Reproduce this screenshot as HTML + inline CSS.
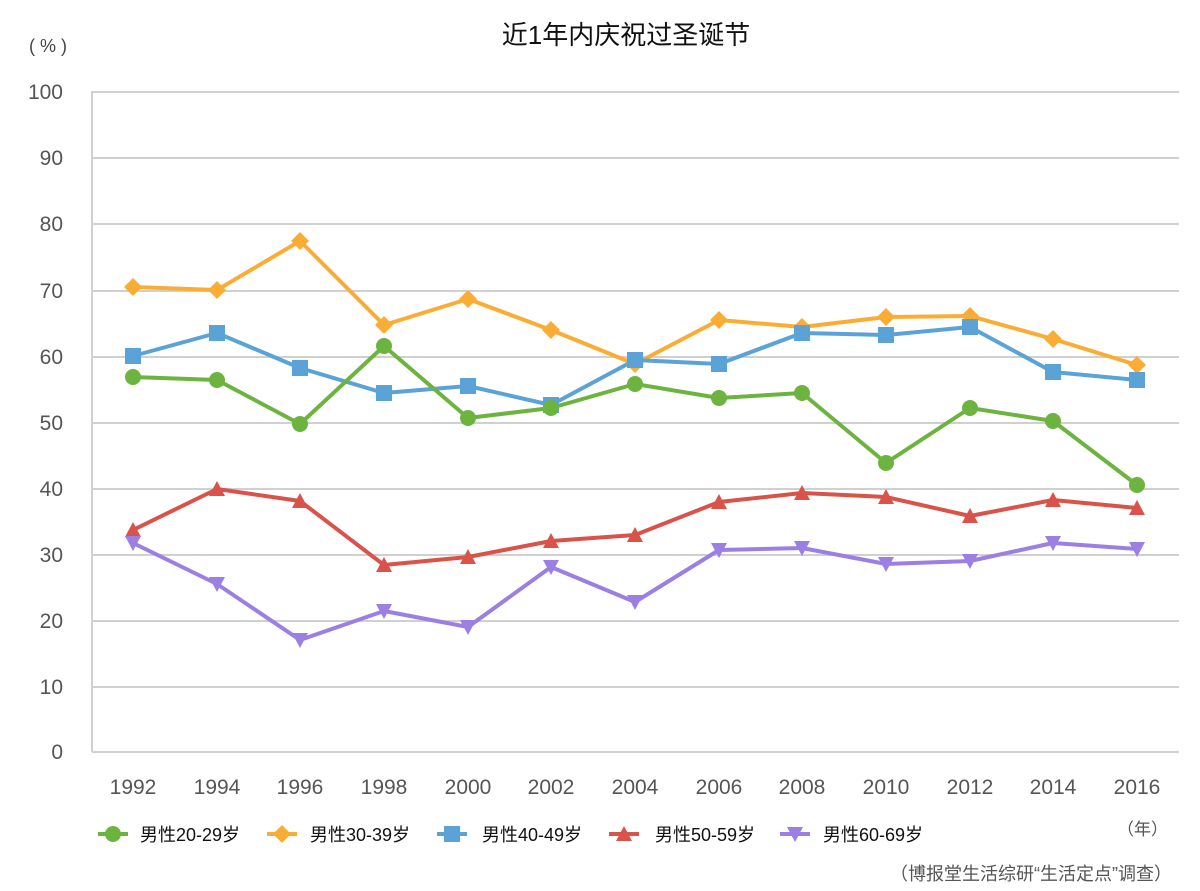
<!DOCTYPE html>
<html><head><meta charset="utf-8"><style>
html,body{margin:0;padding:0;background:#fff;}
svg{display:block;font-family:"Liberation Sans","Noto Sans CJK SC",sans-serif;}
</style></head><body>
<svg width="1200" height="891" viewBox="0 0 1200 891" xmlns="http://www.w3.org/2000/svg">
<defs>
<circle id="mc" r="8" fill="#6db33f"/>
<path id="md" d="M0,-9 L9,0 L0,9 L-9,0Z" fill="#f9ad35"/>
<rect id="ms" x="-8" y="-8" width="16" height="16" fill="#5ba3d6"/>
<path id="mt" d="M0,-8 L8,7 L-8,7Z" fill="#d9534a"/>
<path id="mv" d="M-8,-7 L8,-7 L0,8Z" fill="#9b7fe3"/>
</defs>
<text x="626" y="44" font-size="26" text-anchor="middle" fill="#111">近1年内庆祝过圣诞节</text>
<text x="48" y="52" font-size="18" text-anchor="middle" fill="#444">(   %   )</text>
<g stroke="#d0d0d0" stroke-width="2">
<line x1="92" y1="92" x2="1179" y2="92"/><line x1="92" y1="158" x2="1179" y2="158"/>
<line x1="92" y1="224" x2="1179" y2="224"/><line x1="92" y1="291" x2="1179" y2="291"/>
<line x1="92" y1="357" x2="1179" y2="357"/><line x1="92" y1="423" x2="1179" y2="423"/>
<line x1="92" y1="489" x2="1179" y2="489"/><line x1="92" y1="555" x2="1179" y2="555"/>
<line x1="92" y1="621" x2="1179" y2="621"/><line x1="92" y1="687" x2="1179" y2="687"/>
<line x1="92" y1="752" x2="1179" y2="752"/><line x1="92" y1="91" x2="92" y2="752"/>
</g>
<g font-size="21" fill="#555" text-anchor="end">
<text x="63" y="99">100</text><text x="63" y="165">90</text><text x="63" y="231">80</text>
<text x="63" y="298">70</text><text x="63" y="364">60</text><text x="63" y="430">50</text>
<text x="63" y="496">40</text><text x="63" y="562">30</text><text x="63" y="628">20</text>
<text x="63" y="694">10</text><text x="63" y="759">0</text>
</g>
<g font-size="21" fill="#555" text-anchor="middle">
<text x="133" y="794">1992</text><text x="217" y="794">1994</text><text x="300" y="794">1996</text>
<text x="384" y="794">1998</text><text x="468" y="794">2000</text><text x="551" y="794">2002</text>
<text x="635" y="794">2004</text><text x="719" y="794">2006</text><text x="802" y="794">2008</text>
<text x="886" y="794">2010</text><text x="970" y="794">2012</text><text x="1053" y="794">2014</text>
<text x="1137" y="794">2016</text>
</g>
<g fill="none" stroke-width="4" stroke-linejoin="round">
<polyline stroke="#f9ad35" points="133,287 217,290 300,241 384,325 468,299 551,330 635,364 719,320 802,327 886,317 970,316 1053,339 1137,365"/>
<polyline stroke="#5ba3d6" points="133,356 217,333 300,368 384,393 468,386 551,405 635,360 719,364 802,333 886,335 970,327 1053,372 1137,380"/>
<polyline stroke="#6db33f" points="133,377 217,380 300,424 384,346 468,418 551,408 635,384 719,398 802,393 886,463 970,408 1053,421 1137,485"/>
<polyline stroke="#d9534a" points="133,530 217,489 300,501 384,565 468,557 551,541 635,535 719,502 802,493 886,497 970,516 1053,500 1137,508"/>
<polyline stroke="#9b7fe3" points="133,543 217,584 300,640 384,611 468,627 551,567 635,602 719,550 802,548 886,564 970,561 1053,543 1137,549"/>
</g>
<g>
<use href="#md" x="133" y="287"/><use href="#md" x="217" y="290"/><use href="#md" x="300" y="241"/><use href="#md" x="384" y="325"/><use href="#md" x="468" y="299"/><use href="#md" x="551" y="330"/><use href="#md" x="635" y="364"/><use href="#md" x="719" y="320"/><use href="#md" x="802" y="327"/><use href="#md" x="886" y="317"/><use href="#md" x="970" y="316"/><use href="#md" x="1053" y="339"/><use href="#md" x="1137" y="365"/>
<use href="#ms" x="133" y="356"/><use href="#ms" x="217" y="333"/><use href="#ms" x="300" y="368"/><use href="#ms" x="384" y="393"/><use href="#ms" x="468" y="386"/><use href="#ms" x="551" y="405"/><use href="#ms" x="635" y="360"/><use href="#ms" x="719" y="364"/><use href="#ms" x="802" y="333"/><use href="#ms" x="886" y="335"/><use href="#ms" x="970" y="327"/><use href="#ms" x="1053" y="372"/><use href="#ms" x="1137" y="380"/>
<use href="#mc" x="133" y="377"/><use href="#mc" x="217" y="380"/><use href="#mc" x="300" y="424"/><use href="#mc" x="384" y="346"/><use href="#mc" x="468" y="418"/><use href="#mc" x="551" y="408"/><use href="#mc" x="635" y="384"/><use href="#mc" x="719" y="398"/><use href="#mc" x="802" y="393"/><use href="#mc" x="886" y="463"/><use href="#mc" x="970" y="408"/><use href="#mc" x="1053" y="421"/><use href="#mc" x="1137" y="485"/>
<use href="#mt" x="133" y="530"/><use href="#mt" x="217" y="489"/><use href="#mt" x="300" y="501"/><use href="#mt" x="384" y="565"/><use href="#mt" x="468" y="557"/><use href="#mt" x="551" y="541"/><use href="#mt" x="635" y="535"/><use href="#mt" x="719" y="502"/><use href="#mt" x="802" y="493"/><use href="#mt" x="886" y="497"/><use href="#mt" x="970" y="516"/><use href="#mt" x="1053" y="500"/><use href="#mt" x="1137" y="508"/>
<use href="#mv" x="133" y="543"/><use href="#mv" x="217" y="584"/><use href="#mv" x="300" y="640"/><use href="#mv" x="384" y="611"/><use href="#mv" x="468" y="627"/><use href="#mv" x="551" y="567"/><use href="#mv" x="635" y="602"/><use href="#mv" x="719" y="550"/><use href="#mv" x="802" y="548"/><use href="#mv" x="886" y="564"/><use href="#mv" x="970" y="561"/><use href="#mv" x="1053" y="543"/><use href="#mv" x="1137" y="549"/>
</g>
<g font-size="18" fill="#111">
<line x1="98" y1="834" x2="128" y2="834" stroke="#6db33f" stroke-width="4"/><use href="#mc" x="113" y="834"/><text x="140" y="841">男性20-29岁</text>
<line x1="267" y1="834" x2="297" y2="834" stroke="#f9ad35" stroke-width="4"/><use href="#md" x="282" y="834"/><text x="310" y="841">男性30-39岁</text>
<line x1="437" y1="834" x2="467" y2="834" stroke="#5ba3d6" stroke-width="4"/><use href="#ms" x="452" y="834"/><text x="482" y="841">男性40-49岁</text>
<line x1="609" y1="834" x2="639" y2="834" stroke="#d9534a" stroke-width="4"/><use href="#mt" x="624" y="834"/><text x="655" y="841">男性50-59岁</text>
<line x1="780" y1="834" x2="810" y2="834" stroke="#9b7fe3" stroke-width="4"/><use href="#mv" x="795" y="834"/><text x="823" y="841">男性60-69岁</text>
</g>
<text x="1168" y="835" font-size="17" fill="#555" text-anchor="end">（年）</text>
<text x="1172" y="880" font-size="18" fill="#555" text-anchor="end">（博报堂生活综研“生活定点”调查）</text>
</svg>
</body></html>
